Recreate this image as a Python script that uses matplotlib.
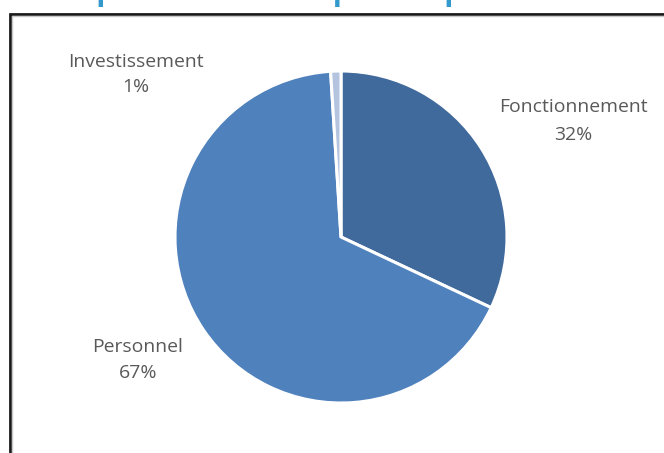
import matplotlib
matplotlib.use("Agg")
import matplotlib.pyplot as plt
from matplotlib.patches import Rectangle

# Data
categories = ["Fonctionnement", "Personnel", "Investissement"]
values = [32, 67, 1]
pct_labels = ["32%", "67%", "1%"]
colors = ["#40699C", "#4F81BD", "#B4C4DF"]
title = "Répartition des dépenses par nature"

W, H = 664, 453
DPI = 100
fig = plt.figure(figsize=(W / DPI, H / DPI), dpi=DPI)
fig.patch.set_facecolor("white")

def fx(px):
    return px / W

def fy(py):
    return 1 - py / H

renderer = fig.canvas.get_renderer()

def fit_size(text, family, weight, target_px, base=12):
    t = fig.text(0, 0, text, fontsize=base, family=family, weight=weight)
    w = t.get_window_extent(renderer=renderer).width
    t.remove()
    return base * target_px / w

# Frame (chart area border, partially cut off)
frame = Rectangle((fx(9.5), fy(H + 20)), fx(W + 50), (H + 20 - 13.5) / H,
                  transform=fig.transFigure, fill=False, edgecolor="#1a1a1a",
                  linewidth=2.0, clip_on=False)
fig.add_artist(frame)
shadow = Rectangle((fx(11.5), fy(H + 20)), fx(W + 50), (H + 20 - 15.5) / H,
                   transform=fig.transFigure, fill=False, edgecolor="#c8c8c8",
                   linewidth=1.0, clip_on=False)
fig.add_artist(shadow)

# Title (cut off at the top of the image, as in the reference)
tsize = fit_size(title, "Open Sans", "bold", 543)
fig.text(fx(331), fy(0.45), title, ha="center", va="baseline", fontsize=tsize,
         family="Open Sans", weight="bold", color="#3399CC")

# Pie
cx, cy, r = 341, 237, 166
ax = fig.add_axes([fx(cx - r), fy(cy + r), 2 * r / W, 2 * r / H])
ax.pie(values, colors=colors, startangle=90, counterclock=False, radius=1,
       wedgeprops=dict(edgecolor="white", linewidth=2.2))
ax.set_xlim(-1, 1)
ax.set_ylim(-1, 1)
ax.set_aspect("auto")
ax.axis("off")

# Labels
lsize = fit_size("Investissement", "Open Sans", "normal", 135)
label_pos = {
    "Fonctionnement": (573.5, 112, 139.5),
    "Personnel": (138, 352, 378),
    "Investissement": (135.5, 67, 92.5),
}
for cat, pct in zip(categories, pct_labels):
    x, y1, y2 = label_pos[cat]
    fig.text(fx(x), fy(y1), cat, ha="center", va="baseline", fontsize=lsize,
             family="Open Sans", color="#595959")
    fig.text(fx(x), fy(y2), pct, ha="center", va="baseline", fontsize=lsize,
             family="Open Sans", color="#595959")

fig.savefig("out.png", dpi=DPI, facecolor="white")
